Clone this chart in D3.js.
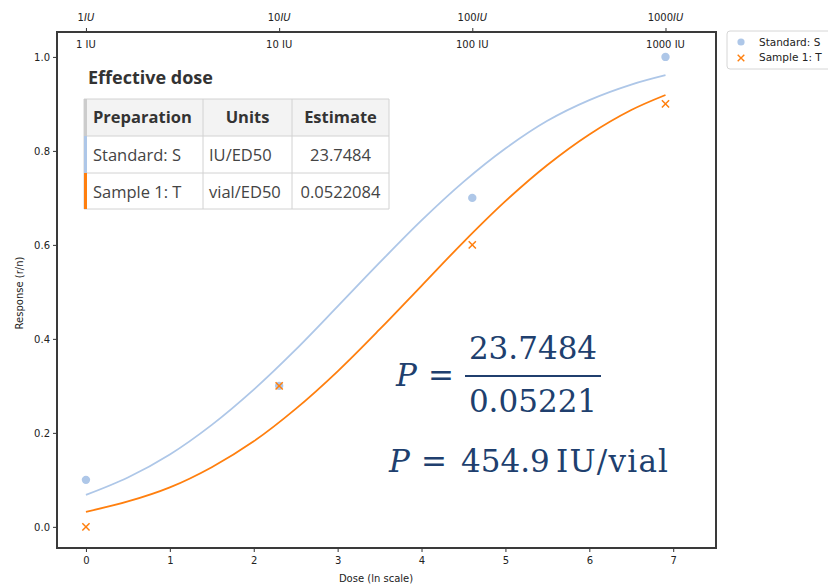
<!DOCTYPE html>
<html>
<head>
<meta charset="utf-8">
<script src="https://cdn.jsdelivr.net/npm/d3@7"></script>
<style>
  body { margin: 0; background: #fff; }
  svg { display: block; }
</style>
</head>
<body>
<svg id="chart" width="828" height="584"></svg>
<script>
/*
    Observed responses at each dose (x in ln scale)
 */
var doseLn = [0, 2.303, 4.605, 6.908];
var standardResp = [0.1, 0.3, 0.7, 1.0];
var sampleResp = [0.0, 0.3, 0.6, 0.9];

/*
    Fitted curves, values
 */
var fitX = [0, 0.5, 1, 1.5, 2, 2.5, 3, 3.5, 4, 4.5, 5, 5.5, 6, 6.5, 6.908];
var standardFit = [0.068, 0.105, 0.154, 0.217, 0.292, 0.377, 0.469, 0.562, 0.652, 0.734, 0.805, 0.864, 0.908, 0.941, 0.961];
var sampleFit = [0.032, 0.054, 0.084, 0.127, 0.182, 0.251, 0.331, 0.420, 0.513, 0.606, 0.693, 0.770, 0.835, 0.887, 0.919];

var xTicks = [0, 1, 2, 3, 4, 5, 6, 7];
var yTicks = [0.0, 0.2, 0.4, 0.6, 0.8, 1.0];
var topTicks = [0, 2.303, 4.605, 6.908];
var topLabels = ["1", "10", "100", "1000"];

var seriesNames = ["Standard: S", "Sample 1: T"];
var seriesColors = ["#aec7e8", "#ff7f0e"];

/*
    Effective dose table
 */
var tableHeader = ["Preparation", "Units", "Estimate"];
var tablePrep = ["Standard: S", "Sample 1: T"];
var tableUnits = ["IU/ED50", "vial/ED50"];
var tableEstimate = ["23.7484", "0.0522084"];

var numerator = "23.7484";
var denominator = "0.05221";
var potency = "454.9";
var potencyUnit = "IU/vial";

var svg = d3.select("#chart");

// plot frame (window.top is reserved, so keep these names)
var frameL = 57, frameR = 716, frameT = 32, frameB = 548;

var x = d3.scaleLinear().domain([-0.345, 7.51]).range([frameL, frameR]);
var y = d3.scaleLinear().domain([-0.045, 1.053]).range([frameB, frameT]);

var axisFont = "DejaVu Sans, sans-serif";

// bottom axis
var gx = svg.append("g")
    .attr("transform", "translate(0," + frameB + ")")
    .call(d3.axisBottom(x).tickValues(xTicks).tickFormat(d3.format("d")).tickSize(4).tickSizeOuter(0));
gx.select(".domain").remove();
gx.selectAll("text").attr("font-family", axisFont).attr("font-size", 10).attr("fill", "#222").attr("dy", "0.9em");
gx.selectAll("line").attr("stroke", "#333");

// left axis
var gy = svg.append("g")
    .attr("transform", "translate(" + frameL + ",0)")
    .call(d3.axisLeft(y).tickValues(yTicks).tickFormat(d3.format(".1f")).tickSize(4).tickSizeOuter(0));
gy.select(".domain").remove();
gy.selectAll("text").attr("font-family", axisFont).attr("font-size", 10).attr("fill", "#222");
gy.selectAll("line").attr("stroke", "#333");

// top axis (IU)
var gt = svg.append("g")
    .attr("transform", "translate(0," + frameT + ")")
    .call(d3.axisTop(x).tickValues(topTicks).tickFormat("").tickSize(4).tickSizeOuter(0));
gt.select(".domain").remove();
gt.selectAll("line").attr("stroke", "#333");

var topText = svg.append("g").selectAll("text")
    .data(topTicks)
    .enter().append("text")
    .attr("x", function(d){ return x(d); })
    .attr("y", 21)
    .attr("text-anchor", "middle")
    .attr("font-family", axisFont)
    .attr("font-size", 10)
    .attr("fill", "#222");
topText.append("tspan").text(function(d, i){ return topLabels[i]; });
topText.append("tspan").attr("font-style", "italic").text("IU");

// labels inside the frame
svg.append("g").selectAll("text")
    .data(topTicks)
    .enter().append("text")
    .attr("x", function(d){ return x(d); })
    .attr("y", 48)
    .attr("text-anchor", "middle")
    .attr("font-family", axisFont)
    .attr("font-size", 10)
    .attr("fill", "#222")
    .text(function(d, i){ return topLabels[i] + " IU"; });

// frame
svg.append("rect")
    .attr("x", frameL).attr("y", frameT)
    .attr("width", frameR - frameL).attr("height", frameB - frameT)
    .attr("fill", "none").attr("stroke", "#3a3a3a").attr("stroke-width", 2);

// axis titles
svg.append("text")
    .attr("x", 376).attr("y", 582)
    .attr("text-anchor", "middle")
    .attr("font-family", axisFont).attr("font-size", 10).attr("fill", "#222")
    .text("Dose (ln scale)");

svg.append("text")
    .attr("transform", "translate(23,293) rotate(-90)")
    .attr("text-anchor", "middle")
    .attr("font-family", axisFont).attr("font-size", 10).attr("fill", "#222")
    .text("Response (r/n)");

// fitted curves
var line = d3.line()
    .x(function(d){ return x(d[0]); })
    .y(function(d){ return y(d[1]); })
    .curve(d3.curveCatmullRom);

[standardFit, sampleFit].forEach(function(fit, k){
    svg.append("path")
        .datum(fitX.map(function(v, i){ return [v, fit[i]]; }))
        .attr("d", line)
        .attr("fill", "none")
        .attr("stroke", seriesColors[k])
        .attr("stroke-width", 1.8);
});

// points
svg.append("g").selectAll("circle")
    .data(doseLn)
    .enter().append("circle")
    .attr("cx", function(d){ return x(d); })
    .attr("cy", function(d, i){ return y(standardResp[i]); })
    .attr("r", 4.2)
    .attr("fill", seriesColors[0]);

var cross = function(cx, cy, s){
    return "M" + (cx - s) + "," + (cy - s) + "L" + (cx + s) + "," + (cy + s) +
           "M" + (cx - s) + "," + (cy + s) + "L" + (cx + s) + "," + (cy - s);
};

svg.append("g").selectAll("path")
    .data(doseLn)
    .enter().append("path")
    .attr("d", function(d, i){ return cross(x(d), y(sampleResp[i]), 3.6); })
    .attr("stroke", seriesColors[1])
    .attr("stroke-width", 1.5)
    .attr("fill", "none");

// legend (runs off the right edge, as in the source)
var legend = svg.append("g").attr("transform", "translate(727,31)");
legend.append("rect")
    .attr("width", 120).attr("height", 38).attr("rx", 3)
    .attr("fill", "#fff").attr("stroke", "#d6d6d6");
legend.append("circle").attr("cx", 14).attr("cy", 11).attr("r", 3.6).attr("fill", seriesColors[0]);
legend.append("path").attr("d", cross(14, 27, 3.3)).attr("stroke", seriesColors[1]).attr("stroke-width", 1.4);
legend.selectAll("text.lg")
    .data(seriesNames)
    .enter().append("text")
    .attr("class", "lg")
    .attr("x", 32)
    .attr("y", function(d, i){ return 15 + i * 15; })
    .attr("font-family", axisFont).attr("font-size", 10.5).attr("fill", "#222")
    .text(function(d){ return d; });

/*
    Effective dose table overlay
 */
var tbl = svg.append("g");
tbl.append("rect").attr("x", 80).attr("y", 62).attr("width", 312).attr("height", 151).attr("fill", "#fff");

tbl.append("text")
    .attr("x", 88).attr("y", 84)
    .attr("font-family", "Open Sans, sans-serif").attr("font-weight", "bold")
    .attr("font-size", 18).attr("fill", "#333")
    .text("Effective dose");

var colX = [84, 203, 292, 389];
var rowY = [99, 136, 173, 209];

tbl.append("rect")
    .attr("x", colX[0]).attr("y", rowY[0])
    .attr("width", colX[3] - colX[0]).attr("height", rowY[1] - rowY[0])
    .attr("fill", "#f3f3f3");

rowY.forEach(function(v){
    tbl.append("line").attr("x1", colX[0]).attr("x2", colX[3]).attr("y1", v).attr("y2", v)
        .attr("stroke", "#d2d2d2").attr("stroke-width", 1);
});
colX.forEach(function(v){
    tbl.append("line").attr("x1", v).attr("x2", v).attr("y1", rowY[0]).attr("y2", rowY[3])
        .attr("stroke", "#d2d2d2").attr("stroke-width", 1);
});

// coloured stripes on the left
var stripeColors = ["#cccccc"].concat(seriesColors);
stripeColors.forEach(function(c, i){
    tbl.append("rect")
        .attr("x", colX[0]).attr("y", rowY[i])
        .attr("width", 3).attr("height", rowY[i + 1] - rowY[i])
        .attr("fill", c);
});

var cellFont = "Open Sans, sans-serif";
var cellSize = 16.5;

tableHeader.forEach(function(h, j){
    tbl.append("text")
        .attr("x", j === 0 ? 93 : (colX[j] + colX[j + 1]) / 2)
        .attr("y", 123)
        .attr("text-anchor", j === 0 ? "start" : "middle")
        .attr("font-family", cellFont).attr("font-weight", "bold")
        .attr("font-size", cellSize).attr("fill", "#333")
        .text(h);
});

[161, 198].forEach(function(by, i){
    tbl.append("text").attr("x", 93).attr("y", by)
        .attr("font-family", cellFont).attr("font-size", cellSize).attr("fill", "#444")
        .text(tablePrep[i]);
    tbl.append("text").attr("x", 209).attr("y", by)
        .attr("font-family", cellFont).attr("font-size", cellSize).attr("fill", "#444")
        .text(tableUnits[i]);
    tbl.append("text").attr("x", (colX[2] + colX[3]) / 2).attr("y", by)
        .attr("text-anchor", "middle")
        .attr("font-family", cellFont).attr("font-size", cellSize).attr("fill", "#444")
        .text(tableEstimate[i]);
});

/*
    Potency equation
 */
var eqColor = "#203f6e";
var eqFont = "DejaVu Serif, serif";
var eq = svg.append("g").attr("font-family", eqFont).attr("font-size", 31).attr("fill", eqColor);

eq.append("text").attr("x", 396).attr("y", 386).attr("font-style", "italic").text("P");
eq.append("text").attr("x", 428).attr("y", 386).text("=");
eq.append("text").attr("x", 533).attr("y", 359).attr("text-anchor", "middle").text(numerator);
eq.append("rect").attr("x", 465).attr("y", 375).attr("width", 136).attr("height", 2).attr("fill", eqColor);
eq.append("text").attr("x", 533).attr("y", 412).attr("text-anchor", "middle").text(denominator);

eq.append("text").attr("x", 389).attr("y", 472).attr("font-style", "italic").text("P");
eq.append("text").attr("x", 421).attr("y", 472).text("=");
eq.append("text").attr("x", 461).attr("y", 472).text(potency);
eq.append("text").attr("x", 556).attr("y", 472).attr("textLength", 112).text(potencyUnit);
</script>
</body>
</html>
